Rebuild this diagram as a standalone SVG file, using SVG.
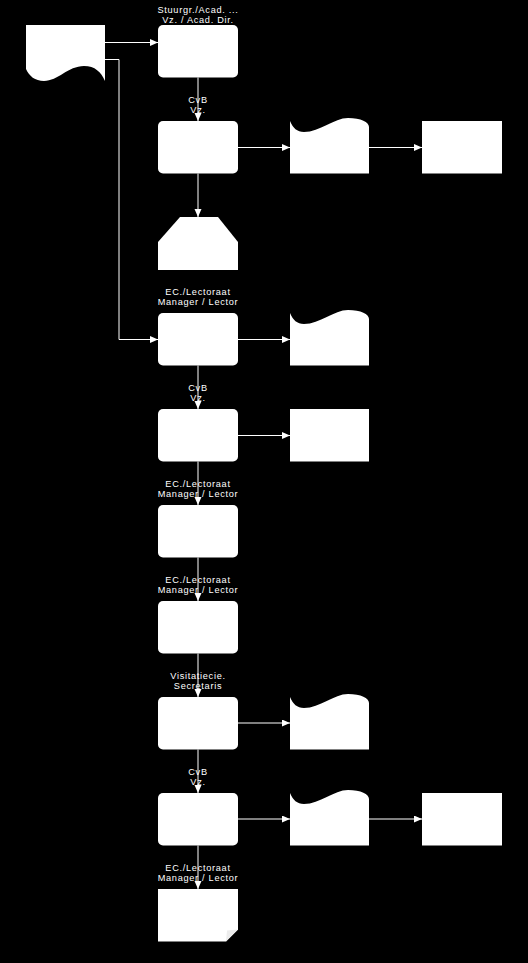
<svg xmlns="http://www.w3.org/2000/svg" xmlns:xlink="http://www.w3.org/1999/xlink" width="528" height="963" viewBox="0 0 528 963">
<style>
.bg{fill:#000}
.shape{fill:#fff;stroke:none}
.lbl{font-family:"Liberation Sans",Arial,sans-serif;font-size:9.2px;fill:#fff;text-anchor:middle;letter-spacing:0.7px}
.conn{fill:none;stroke:#fff;stroke-width:1}
</style>
<defs>
<marker id="arr" markerUnits="userSpaceOnUse" markerWidth="9" markerHeight="8" refX="8" refY="3.5" orient="auto">
<path d="M0,0 L8,3.5 L0,7 Z" fill="#fff"/>
</marker>
<path id="docTop" d="M290,0 C293,7 297,11 304,11 C320,11 334,-3 348,-3 C361,-3 369,1 369,6 V52.5 H290 Z"/>
</defs>
<rect class="bg" x="0" y="0" width="528" height="963"/>

<g id="connectors">
<path class="conn" d="M105,42.5 H158" marker-end="url(#arr)"/>
<path class="conn" d="M105,59.5 H119 V339.5 H158" marker-end="url(#arr)"/>
<path class="conn" d="M198,77.5 V121" marker-end="url(#arr)"/>
<path class="conn" d="M238,147.5 H290" marker-end="url(#arr)"/>
<path class="conn" d="M369,147.5 H422" marker-end="url(#arr)"/>
<path class="conn" d="M198,173.5 V217" marker-end="url(#arr)"/>
<path class="conn" d="M238,339.5 H290" marker-end="url(#arr)"/>
<path class="conn" d="M198,365.5 V409" marker-end="url(#arr)"/>
<path class="conn" d="M238,435.5 H290" marker-end="url(#arr)"/>
<path class="conn" d="M198,461.5 V505" marker-end="url(#arr)"/>
<path class="conn" d="M198,557.5 V601" marker-end="url(#arr)"/>
<path class="conn" d="M198,653.5 V697" marker-end="url(#arr)"/>
<path class="conn" d="M238,723 H290" marker-end="url(#arr)"/>
<path class="conn" d="M198,749.5 V793" marker-end="url(#arr)"/>
<path class="conn" d="M238,819 H290" marker-end="url(#arr)"/>
<path class="conn" d="M369,819 H422" marker-end="url(#arr)"/>
<path class="conn" d="M198,845.5 V889" marker-end="url(#arr)"/>
</g>

<g id="doc-start">
<path class="shape" d="M26,25 H105 V81 C101,72 95,66 84,66 C68,66 58,81 44,81 C35,81 29,76 26,69 Z"/>
</g>

<g id="box1">
<rect class="shape" x="158" y="25" width="80" height="52.5" rx="5"/>
<text class="lbl" x="198" y="12.5">Stuurgr./Acad. ...</text>
<text class="lbl" x="198" y="22.5">Vz. / Acad. Dir.</text>
</g>

<g id="box2">
<rect class="shape" x="158" y="121" width="80" height="52.5" rx="5"/>
<text class="lbl" x="198" y="102.5">CvB</text>
<text class="lbl" x="198" y="112.5">Vz.</text>
</g>
<g id="doc2"><use href="#docTop" xlink:href="#docTop" class="shape" y="121"/></g>
<g id="rect2"><rect class="shape" x="422" y="121" width="80" height="52.5"/></g>

<g id="loop">
<polygon class="shape" points="180,217 218,217 238,242 238,270 158,270 158,242"/>
</g>

<g id="box3">
<rect class="shape" x="158" y="313" width="80" height="52.5" rx="5"/>
<text class="lbl" x="198" y="294.5">EC./Lectoraat</text>
<text class="lbl" x="198" y="304.5">Manager / Lector</text>
</g>
<g id="doc3"><use href="#docTop" xlink:href="#docTop" class="shape" y="313"/></g>

<g id="box4">
<rect class="shape" x="158" y="409" width="80" height="52.5" rx="5"/>
<text class="lbl" x="198" y="390.5">CvB</text>
<text class="lbl" x="198" y="400.5">Vz.</text>
</g>
<g id="rect4"><rect class="shape" x="290" y="409" width="79" height="52.5"/></g>

<g id="box5">
<rect class="shape" x="158" y="505" width="80" height="52.5" rx="5"/>
<text class="lbl" x="198" y="486.5">EC./Lectoraat</text>
<text class="lbl" x="198" y="496.5">Manager / Lector</text>
</g>

<g id="box6">
<rect class="shape" x="158" y="601" width="80" height="52.5" rx="5"/>
<text class="lbl" x="198" y="582.5">EC./Lectoraat</text>
<text class="lbl" x="198" y="592.5">Manager / Lector</text>
</g>

<g id="box7">
<rect class="shape" x="158" y="697" width="80" height="52.5" rx="5"/>
<text class="lbl" x="198" y="678.5">Visitatiecie.</text>
<text class="lbl" x="198" y="688.5">Secretaris</text>
</g>
<g id="doc7"><use href="#docTop" xlink:href="#docTop" class="shape" y="697"/></g>

<g id="box8">
<rect class="shape" x="158" y="793" width="80" height="52.5" rx="5"/>
<text class="lbl" x="198" y="774.5">CvB</text>
<text class="lbl" x="198" y="784.5">Vz.</text>
</g>
<g id="doc8"><use href="#docTop" xlink:href="#docTop" class="shape" y="793"/></g>
<g id="rect8"><rect class="shape" x="422" y="793" width="80" height="52.5"/></g>

<g id="note">
<path class="shape" d="M158,889 H238 V929.5 L226,941.5 H158 Z"/>
<polygon points="226,941.5 227,930.5 238,929.5" fill="#ececec"/>
<text class="lbl" x="198" y="870.5">EC./Lectoraat</text>
<text class="lbl" x="198" y="880.5">Manager / Lector</text>
</g>
</svg>
